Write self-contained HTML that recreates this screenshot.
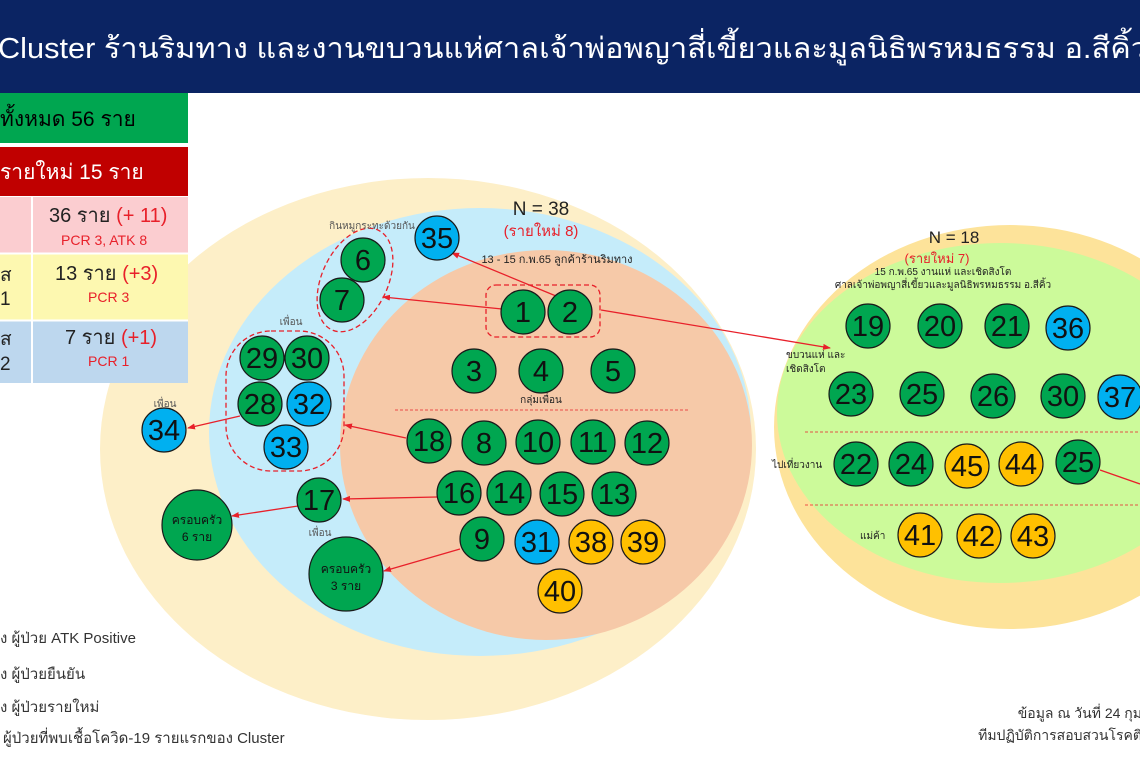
<!DOCTYPE html>
<html><head><meta charset="utf-8"><style>
html,body{margin:0;padding:0;width:1140px;height:760px;overflow:hidden;background:#fff;font-family:"Liberation Sans","Noto Sans CJK SC",sans-serif}
svg text{font-family:"Liberation Sans","Noto Sans CJK SC",sans-serif}
</style></head><body>
<svg width="1140" height="760" xmlns="http://www.w3.org/2000/svg">
<defs><marker id="a" markerWidth="8" markerHeight="8" refX="7" refY="4" orient="auto" markerUnits="userSpaceOnUse"><path d="M0,1 L8,4 L0,7z" fill="#e8202a"/></marker></defs>
<rect x="0" y="0" width="1140" height="93" fill="#0b2463"/>
<text x="-2" y="58" fill="#fff" font-size="29" textLength="1150" lengthAdjust="spacingAndGlyphs">Cluster ร้านริมทาง และงานขบวนแห่ศาลเจ้าพ่อพญาสี่เขี้ยวและมูลนิธิพรหมธรรม อ.สีคิ้ว</text>
<!-- left ellipses -->
<ellipse cx="428" cy="449" rx="328" ry="271" fill="#fdefc8"/>
<ellipse cx="480" cy="432" rx="271" ry="224" fill="#c5ecfa"/>
<ellipse cx="546" cy="445" rx="206" ry="195" fill="#f6c9a8"/>
<!-- right ellipses -->
<ellipse cx="1010" cy="427" rx="236" ry="202" fill="#fde39a"/>
<ellipse cx="1000" cy="413" rx="223" ry="170" fill="#ccfa9a"/>
<!-- table -->
<rect x="0" y="93" width="188" height="50" fill="#00a650"/>
<text x="0" y="126" font-size="21" fill="#000">ทั้งหมด 56 ราย</text>
<rect x="0" y="147" width="188" height="49" fill="#c00000"/>
<text x="0" y="179" font-size="21" fill="#fff">รายใหม่ 15 ราย</text>
<rect x="0" y="197" width="188" height="56" fill="#fbcdd0"/>
<rect x="0" y="254" width="188" height="66" fill="#fdf8b0"/>
<rect x="0" y="321" width="188" height="62" fill="#bdd7ee"/>
<line x1="32" y1="197" x2="32" y2="383" stroke="#fff" stroke-width="2"/>
<line x1="0" y1="253.5" x2="188" y2="253.5" stroke="#fff" stroke-width="2"/>
<line x1="0" y1="320.5" x2="188" y2="320.5" stroke="#fff" stroke-width="2"/>
<text x="49" y="222" font-size="20" fill="#222">36 ราย <tspan fill="#e8202a">(+ 11)</tspan></text>
<text x="61" y="245" font-size="14" fill="#e8202a">PCR 3, ATK 8</text>
<text x="0" y="281" font-size="19" fill="#222">ัส</text><text x="0" y="305" font-size="19" fill="#222">1</text>
<text x="55" y="280" font-size="20" fill="#222">13 ราย <tspan fill="#e8202a">(+3)</tspan></text>
<text x="88" y="302" font-size="14" fill="#e8202a">PCR 3</text>
<text x="0" y="345" font-size="19" fill="#222">ัส</text><text x="0" y="370" font-size="19" fill="#222">2</text>
<text x="65" y="344" font-size="20" fill="#222">7 ราย <tspan fill="#e8202a">(+1)</tspan></text>
<text x="88" y="366" font-size="14" fill="#e8202a">PCR 1</text>
<!-- dashed groups -->
<ellipse cx="355" cy="280" rx="33" ry="55" transform="rotate(25 355 280)" fill="none" stroke="#e8202a" stroke-dasharray="5,3" stroke-width="1.3"/>
<rect x="226" y="331" width="118" height="140" rx="45" fill="none" stroke="#e8202a" stroke-dasharray="5,3" stroke-width="1.3"/>
<rect x="486" y="285" width="114" height="52" rx="10" fill="none" stroke="#e8202a" stroke-dasharray="5,3" stroke-width="1.3"/>
<line x1="395" y1="410" x2="688" y2="410" stroke="#e8202a" stroke-dasharray="3,2" stroke-width="0.8"/>
<line x1="805" y1="432" x2="1140" y2="432" stroke="#e8202a" stroke-dasharray="3,2" stroke-width="0.8"/>
<line x1="805" y1="505" x2="1140" y2="505" stroke="#e8202a" stroke-dasharray="3,2" stroke-width="0.8"/>
<!-- labels -->
<text x="541" y="215" font-size="19" text-anchor="middle" fill="#222">N = 38</text>
<text x="541" y="236" font-size="15" text-anchor="middle" fill="#e8202a">(รายใหม่ 8)</text>
<text x="557" y="263" font-size="11" text-anchor="middle" fill="#222">13 - 15 ก.พ.65 ลูกค้าร้านริมทาง</text>
<text x="541" y="403" font-size="10" text-anchor="middle" fill="#222">กลุ่มเพื่อน</text>
<text x="372" y="229" font-size="10" text-anchor="middle" fill="#555">กินหมูกระทะด้วยกัน</text>
<text x="291" y="325" font-size="10" text-anchor="middle" fill="#555">เพื่อน</text>
<text x="165" y="407" font-size="10" text-anchor="middle" fill="#555">เพื่อน</text>
<text x="320" y="536" font-size="10" text-anchor="middle" fill="#555">เพื่อน</text>
<text x="954" y="243" font-size="17" text-anchor="middle" fill="#222">N = 18</text>
<text x="937" y="263" font-size="13" text-anchor="middle" fill="#e8202a">(รายใหม่ 7)</text>
<text x="943" y="275" font-size="10" text-anchor="middle" fill="#222">15 ก.พ.65 งานแห่ และเชิดสิงโต</text>
<text x="943" y="288" font-size="10" text-anchor="middle" fill="#222">ศาลเจ้าพ่อพญาสี่เขี้ยวและมูลนิธิพรหมธรรม อ.สีคิ้ว</text>
<text x="786" y="358" font-size="10" fill="#222">ขบวนแห่ และ</text>
<text x="786" y="372" font-size="10" fill="#222">เชิดสิงโต</text>
<text x="772" y="468" font-size="10" fill="#222">ไปเที่ยวงาน</text>
<text x="860" y="539" font-size="10" fill="#222">แม่ค้า</text>
<!-- arrows -->
<g stroke="#e8202a" stroke-width="1.3" fill="none" marker-end="url(#a)">
<line x1="556" y1="296" x2="452" y2="253"/>
<line x1="502" y1="309" x2="383" y2="297"/>
<line x1="601" y1="310" x2="830" y2="348"/>
<line x1="406" y1="438" x2="345" y2="425"/>
<line x1="240" y1="416" x2="188" y2="428"/>
<line x1="437" y1="497" x2="343" y2="499"/>
<line x1="298" y1="506" x2="232" y2="516"/>
<line x1="460" y1="549" x2="384" y2="571"/>
</g>
<line x1="1100" y1="470" x2="1140" y2="484" stroke="#e8202a" stroke-width="1.3"/>
<!-- circles -->
<g stroke="#1a1a1a" stroke-width="1.2">
<g fill="#00a650">
<circle cx="363" cy="260" r="22"/><circle cx="342" cy="300" r="22"/>
<circle cx="523" cy="312" r="22"/><circle cx="570" cy="312" r="22"/>
<circle cx="474" cy="371" r="22"/><circle cx="541" cy="371" r="22"/><circle cx="613" cy="371" r="22"/>
<circle cx="262" cy="358" r="22"/><circle cx="307" cy="358" r="22"/><circle cx="260" cy="404" r="22"/>
<circle cx="429" cy="441" r="22"/><circle cx="484" cy="443" r="22"/><circle cx="538" cy="442" r="22"/><circle cx="593" cy="442" r="22"/><circle cx="647" cy="443" r="22"/>
<circle cx="459" cy="493" r="22"/><circle cx="509" cy="493" r="22"/><circle cx="562" cy="494" r="22"/><circle cx="614" cy="494" r="22"/>
<circle cx="319" cy="500" r="22"/><circle cx="482" cy="539" r="22"/>
<circle cx="197" cy="525" r="35"/><circle cx="346" cy="574" r="37"/>
<circle cx="868" cy="326" r="22"/><circle cx="940" cy="326" r="22"/><circle cx="1007" cy="326" r="22"/>
<circle cx="851" cy="394" r="22"/><circle cx="922" cy="394" r="22"/><circle cx="993" cy="396" r="22"/><circle cx="1063" cy="396" r="22"/>
<circle cx="856" cy="464" r="22"/><circle cx="911" cy="464" r="22"/><circle cx="1078" cy="462" r="22"/>
</g>
<g fill="#00b0f0">
<circle cx="437" cy="238" r="22"/><circle cx="309" cy="404" r="22"/><circle cx="286" cy="447" r="22"/><circle cx="164" cy="430" r="22"/><circle cx="537" cy="542" r="22"/>
<circle cx="1068" cy="328" r="22"/><circle cx="1120" cy="397" r="22"/>
</g>
<g fill="#ffc000">
<circle cx="591" cy="542" r="22"/><circle cx="643" cy="542" r="22"/><circle cx="560" cy="591" r="22"/>
<circle cx="967" cy="466" r="22"/><circle cx="1021" cy="464" r="22"/>
<circle cx="920" cy="535" r="22"/><circle cx="979" cy="536" r="22"/><circle cx="1033" cy="536" r="22"/>
</g>
</g>
<g font-size="29" text-anchor="middle" fill="#111">
<text x="363" y="270">6</text><text x="342" y="310">7</text><text x="437" y="248">35</text>
<text x="523" y="322">1</text><text x="570" y="322">2</text>
<text x="474" y="381">3</text><text x="541" y="381">4</text><text x="613" y="381">5</text>
<text x="262" y="368">29</text><text x="307" y="368">30</text><text x="260" y="414">28</text><text x="309" y="414">32</text><text x="286" y="457">33</text><text x="164" y="440">34</text>
<text x="429" y="451">18</text><text x="484" y="453">8</text><text x="538" y="452">10</text><text x="593" y="452">11</text><text x="647" y="453">12</text>
<text x="459" y="503">16</text><text x="509" y="503">14</text><text x="562" y="504">15</text><text x="614" y="504">13</text>
<text x="319" y="510">17</text><text x="482" y="549">9</text><text x="537" y="552">31</text><text x="591" y="552">38</text><text x="643" y="552">39</text><text x="560" y="601">40</text>
<text x="868" y="336">19</text><text x="940" y="336">20</text><text x="1007" y="336">21</text><text x="1068" y="338">36</text>
<text x="851" y="404">23</text><text x="922" y="404">25</text><text x="993" y="406">26</text><text x="1063" y="406">30</text><text x="1120" y="407">37</text>
<text x="856" y="474">22</text><text x="911" y="474">24</text><text x="967" y="476">45</text><text x="1021" y="474">44</text><text x="1078" y="472">25</text>
<text x="920" y="545">41</text><text x="979" y="546">42</text><text x="1033" y="546">43</text>
</g>
<g font-size="12" text-anchor="middle" fill="#111">
<text x="197" y="524">ครอบครัว</text><text x="197" y="541">6 ราย</text>
<text x="346" y="573">ครอบครัว</text><text x="346" y="590">3 ราย</text>
</g>
<!-- legend -->
<g font-size="15" fill="#333">
<text x="0" y="643">ง ผู้ป่วย ATK Positive</text>
<text x="0" y="679">ง ผู้ป่วยยืนยัน</text>
<text x="0" y="712">ง ผู้ป่วยรายใหม่</text>
<text x="3" y="743">ผู้ป่วยที่พบเชื้อโควิด-19 รายแรกของ Cluster</text>
</g>
<g font-size="14" fill="#333" text-anchor="end">
<text x="1142" y="718">ข้อมูล ณ วันที่ 24 กุม</text>
<text x="1142" y="740">ทีมปฏิบัติการสอบสวนโรคติ</text>
</g>
</svg>
</body></html>
